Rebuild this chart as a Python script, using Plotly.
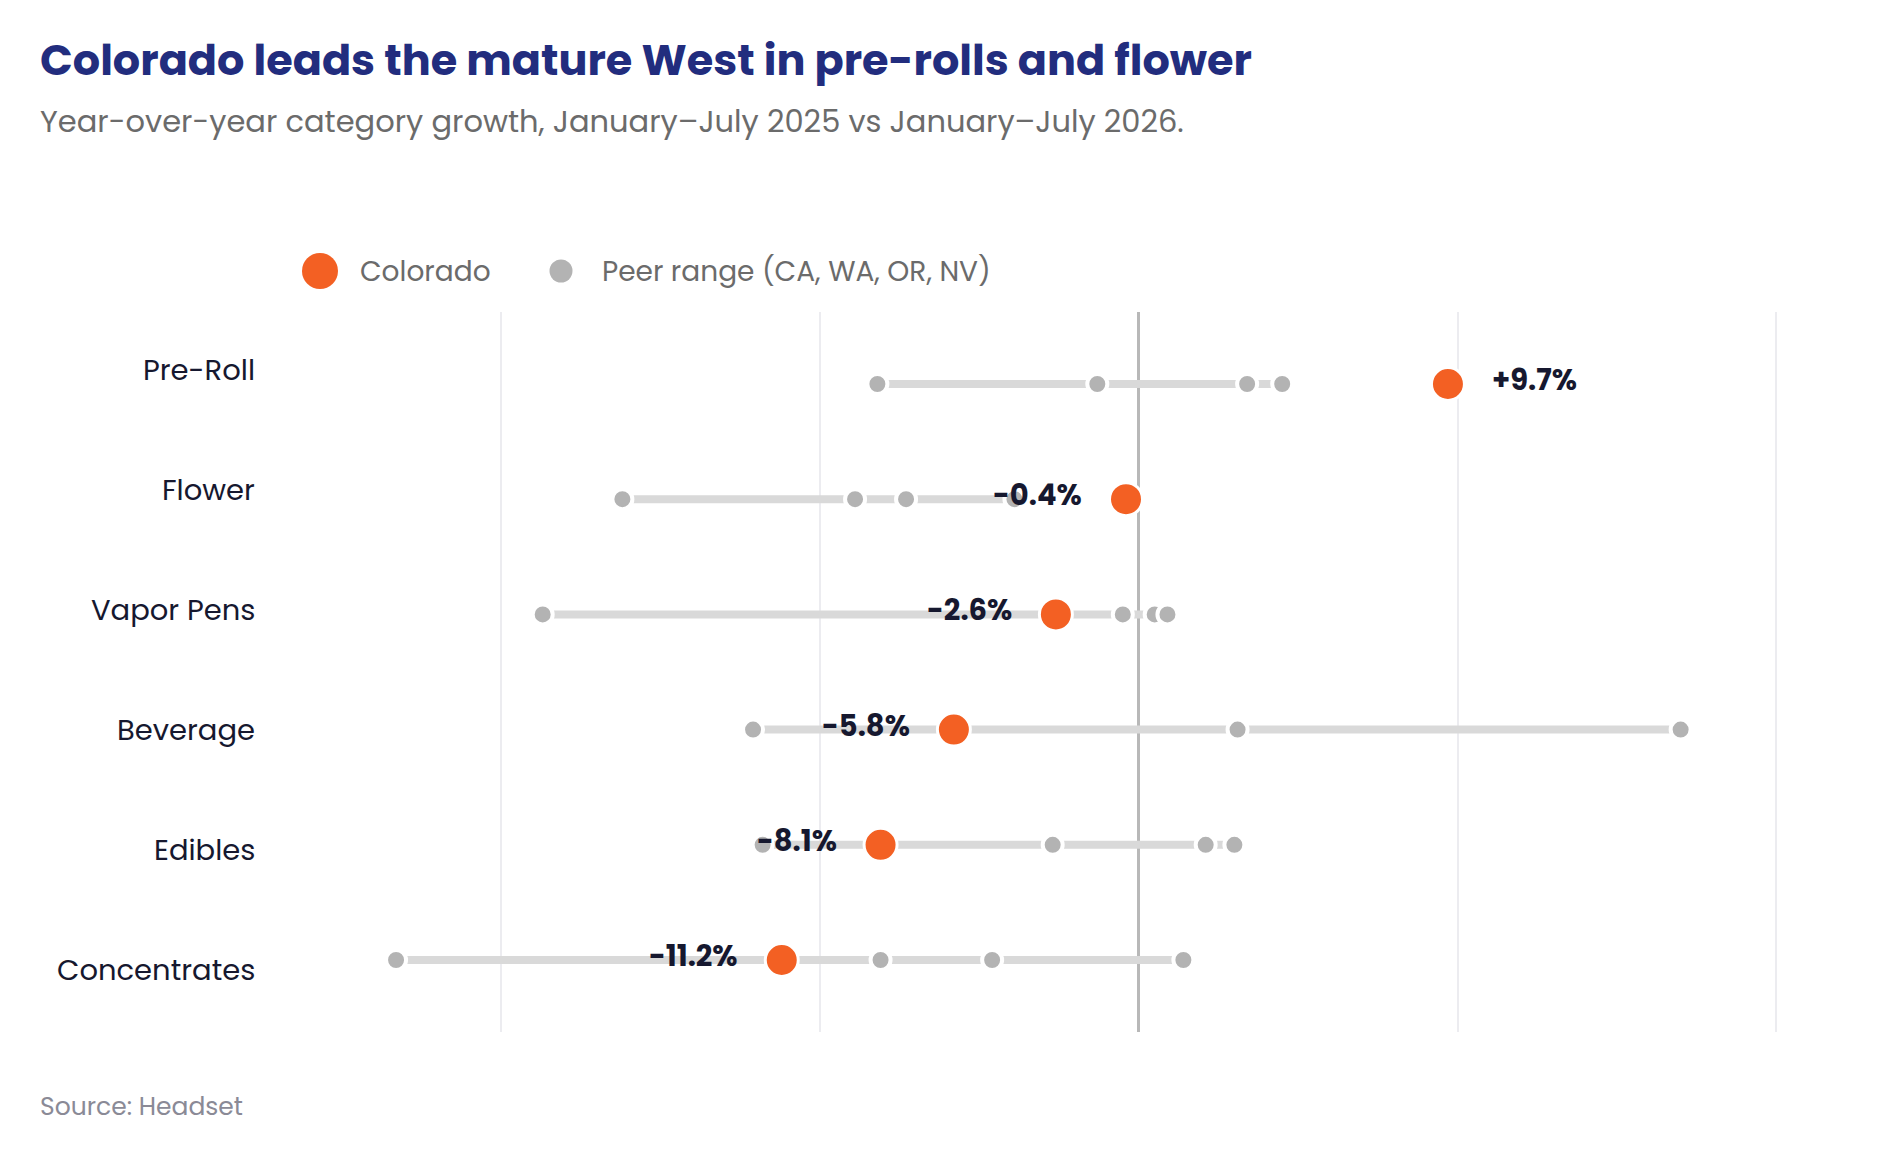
import plotly.graph_objects as go

# Jan-Jul 2026 vs Jan-Jul 2025 growth, %
categories = ["Pre-Roll", "Flower", "Vapor Pens", "Beverage", "Edibles", "Concentrates"]
colorado = [9.7, -0.4, -2.6, -5.8, -8.1, -11.2]
peer_values = [
    [-8.2, -1.3, 3.4, 4.5],
    [-16.2, -8.9, -7.3, -3.9],
    [-18.7, -0.5, 0.5, 0.9],
    [-12.1, 3.1, 17.0],
    [-11.8, -2.7, 2.1, 3.0],
    [-23.3, -8.1, -4.6, 1.4],
]
grid_ticks = [-20, -10, 0, 10, 20]

ORANGE = "#f36023"
PEER = "#b3b3b3"
BAR = "#d9d9d9"
NAVY = "#222d7e"
INK = "#16182f"
FONT = "Poppins, Inter, sans-serif"

# page body has an 8px margin, so the figure is a bit smaller than the window
W, H = 1865, 1145
M = dict(l=302, r=33, t=304, b=121)
plot_h = H - M["t"] - M["b"]
PLOT_BOTTOM = 8 + H - M["b"]  # in page pixels


def paper_y(py):
    # page pixel row -> paper coordinate
    return (PLOT_BOTTOM - py) / plot_h


# range bars, min to max peer
bx, by = [], []
for cat, vals in zip(categories, peer_values):
    bx += [min(vals), max(vals), None]
    by += [cat, cat, None]

px_, py_ = [], []
for cat, vals in zip(categories, peer_values):
    px_ += vals
    py_ += [cat] * len(vals)

fig = go.Figure()
fig.add_trace(go.Scatter(
    x=bx, y=by, mode="lines", line=dict(color=BAR, width=8),
    hoverinfo="skip", showlegend=False,
))
fig.add_trace(go.Scatter(
    x=px_, y=py_, mode="markers",
    marker=dict(size=20, color=PEER, line=dict(color="white", width=4)),
    name="Peer range (CA, WA, OR, NV)", showlegend=False, cliponaxis=False,
))
fig.add_trace(go.Scatter(
    x=colorado, y=categories, mode="markers",
    marker=dict(size=33, color=ORANGE, line=dict(color="white", width=3)),
    name="Colorado", showlegend=False, cliponaxis=False,
))

annotations = []
# value labels next to the Colorado dots
for cat, v in zip(categories, colorado):
    annotations.append(dict(
        x=v, y=cat, xref="x", yref="y", text=f"{v:+.1f}%", showarrow=False,
        xanchor="left" if v > 0 else "right", yanchor="middle",
        xshift=42 if v > 0 else -42, yshift=4,
        font=dict(family=FONT, size=29, color=INK, weight=700),
    ))
# category names
for i, cat in enumerate(categories):
    annotations.append(dict(
        x=0, y=1 - (i + 0.5) / len(categories), xref="paper", yref="paper",
        text=cat, showarrow=False, xanchor="right", yanchor="middle", xshift=-53, yshift=2,
        font=dict(family=FONT, size=29, color=INK),
    ))


def page_text(text, px, py, size, color, weight=400):
    return dict(x=0, y=paper_y(py), xref="paper", yref="paper", xanchor="left", yanchor="middle",
                xshift=px - (8 + M["l"]), text=text, showarrow=False,
                font=dict(family=FONT, size=size, color=color, weight=weight))


annotations += [
    page_text("Colorado leads the mature West in pre-rolls and flower", 38, 60, 43, NAVY, 700),
    page_text("Year-over-year category growth, January–July 2025 vs January–July 2026.",
              38, 121, 30.5, "#6b6b6b"),
    page_text("Colorado", 358, 271, 28, "#6b6b6b"),
    page_text("Peer range (CA, WA, OR, NV)", 600, 271, 28, "#6b6b6b"),
    page_text("Source: Headset", 38, 1106, 25, "#8a8a96"),
]

# legend swatches (page x positions relative to plot left edge)
lx0 = 8 + M["l"]
shapes = [
    dict(type="circle", xref="paper", yref="paper", xsizemode="pixel", ysizemode="pixel",
         xanchor=0, yanchor=paper_y(271), x0=320 - lx0 - 18, x1=320 - lx0 + 18, y0=-18, y1=18,
         fillcolor=ORANGE, line=dict(width=0)),
    dict(type="circle", xref="paper", yref="paper", xsizemode="pixel", ysizemode="pixel",
         xanchor=0, yanchor=paper_y(271), x0=561 - lx0 - 11.5, x1=561 - lx0 + 11.5, y0=-11.5, y1=11.5,
         fillcolor=PEER, line=dict(width=0)),
]

fig.update_layout(
    width=W, height=H, margin=M,
    paper_bgcolor="white", plot_bgcolor="white",
    showlegend=False,
    xaxis=dict(range=[-26, 22], tickvals=grid_ticks, showticklabels=False,
               showgrid=True, gridcolor="#ececf0", gridwidth=2,
               zeroline=True, zerolinecolor="#b8b8b8", zerolinewidth=3,
               showline=False, fixedrange=True),
    yaxis=dict(type="category", categoryorder="array", categoryarray=categories,
               range=[len(categories) - 1 + 0.625, -0.625],
               showticklabels=False, showgrid=False, zeroline=False, fixedrange=True),
    annotations=annotations,
    shapes=shapes,
    font=dict(family=FONT),
)

fig.write_html("out.html")
